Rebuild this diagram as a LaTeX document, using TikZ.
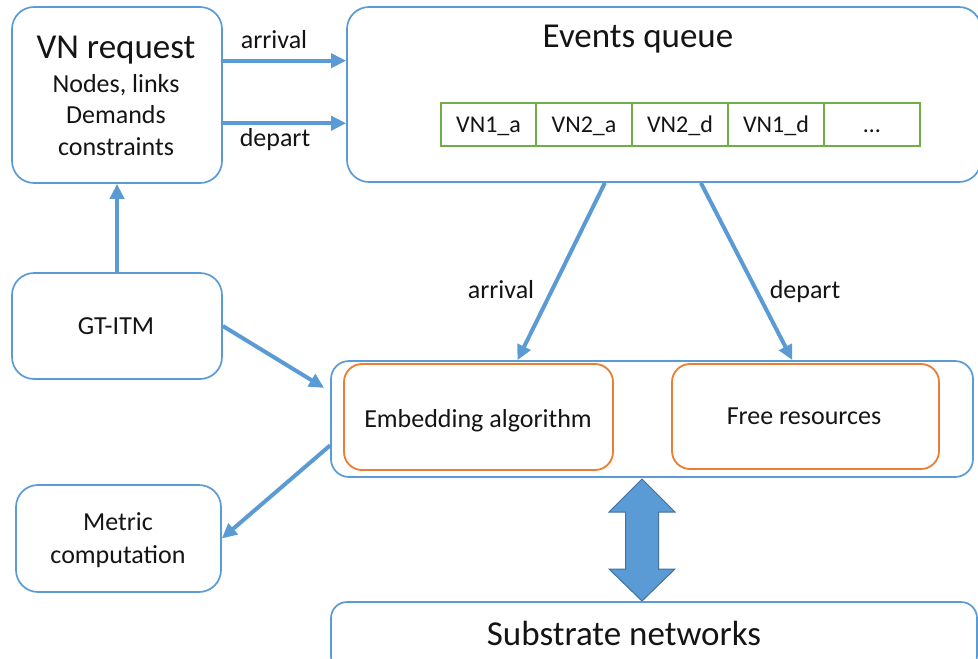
\documentclass[tikz,border=0pt]{standalone}
\usepackage{fontspec}
\setmainfont{Carlito}
\usetikzlibrary{arrows.meta,calc}
\definecolor{cblue}{HTML}{5B9BD5}
\definecolor{corange}{HTML}{ED7D31}
\definecolor{cgreen}{HTML}{70AD47}
\definecolor{cdark}{HTML}{41719C}
\definecolor{ctext}{HTML}{141414}
\newcommand{\FBig}{\fontsize{35}{40}\selectfont}
\newcommand{\FMed}{\fontsize{26}{30}\selectfont}
\newcommand{\FSml}{\fontsize{24}{28}\selectfont}
\begin{document}
\begin{tikzpicture}[x=1pt,y=-1pt,
 bluebox/.style={draw=cblue, line width=1.7pt, rounded corners=22pt, inner sep=0pt},
 orangebox/.style={draw=corange, line width=1.8pt, rounded corners=18pt, inner sep=0pt},
 cell/.style={draw=cgreen, line width=2.2pt, inner sep=0pt, minimum height=43pt, text height=20pt, text depth=5pt, font=\FSml, text=ctext},
 lbl/.style={anchor=base, inner sep=0pt, text=ctext},
 arr/.style={draw=cblue, line width=4pt, -{Triangle[length=15pt,width=14pt]}},
]
\useasboundingbox (0,0) rectangle (978,659);
\clip (0,0) rectangle (978,659);

% boxes
\node[bluebox, minimum width=210pt, minimum height=176pt] (vn) at (117,95) {};
\node[bluebox, minimum width=634pt, minimum height=175pt] (eq) at (664,94.5) {};
\node[bluebox, minimum width=210pt, minimum height=106pt] (gt) at (117,326) {};
\node[bluebox, rounded corners=18pt, minimum width=642pt, minimum height=116pt] (mid) at (652,419) {};
\node[orangebox, minimum width=269pt, minimum height=106pt] (emb) at (478.5,417) {};
\node[orangebox, minimum width=267pt, minimum height=105pt] (free) at (805.5,416.5) {};
\node[bluebox, minimum width=205pt, minimum height=107pt] (met) at (118.5,538.5) {};
\node[bluebox, rounded corners=16pt, minimum width=646pt, minimum height=70pt] (sub) at (654,637) {};

% queue cells
\node[cell, minimum width=95pt] (c1) at (488.5,124.5) {VN1\_a};
\node[cell, minimum width=96pt] (c2) at (584,124.5) {VN2\_a};
\node[cell, minimum width=96pt] (c3) at (680,124.5) {VN2\_d};
\node[cell, minimum width=96pt] (c4) at (776,124.5) {VN1\_d};
\node[cell, minimum width=96pt] (c5) at (872,124.5) {…};

% texts
\node[lbl, font=\FBig] (t1) at (116,58) {VN request};
\node[lbl, font=\FMed] (t2) at (116,92) {Nodes, links};
\node[lbl, font=\FMed] (t3) at (116,123) {Demands};
\node[lbl, font=\FMed] (t4) at (116,155) {constraints};
\node[lbl, font=\FMed] (la1) at (274,48) {arrival};
\node[lbl, font=\FMed] (ld1) at (275,146) {depart};
\node[lbl, font=\FBig] (teq) at (638,47) {Events queue};
\node[lbl, font=\FMed] (tgt) at (116,334) {GT-ITM};
\node[lbl, font=\FMed] (temb) at (478,427) {Embedding algorithm};
\node[lbl, font=\FMed] (tfree) at (804,424) {Free resources};
\node[lbl, font=\FMed] (la2) at (501,298) {arrival};
\node[lbl, font=\FMed] (ld2) at (805,298) {depart};
\node[lbl, font=\FMed] (tm1) at (118,530) {Metric};
\node[lbl, font=\FMed] (tm2) at (118,563) {computation};
\node[lbl, font=\FBig] (tsub) at (624,645) {Substrate networks};

% connectors
\path ($(vn.north east)!0.307!(vn.south east)$) coordinate (a1s);
\path ($(vn.north east)!0.659!(vn.south east)$) coordinate (d1s);
\draw[arr] (a1s) -- (a1s -| eq.west);
\draw[arr] (d1s) -- (d1s -| eq.west);
\draw[arr] (gt.north) -- (vn.south);
\draw[arr] ($(eq.south west)!0.407!(eq.south east)$) -- ($(mid.north west)!0.291!(mid.north east)$);
\draw[arr] ($(eq.south west)!0.558!(eq.south east)$) -- ($(mid.north west)!0.718!(mid.north east)$);
\draw[arr, shorten >=7pt] (gt.east) -- ($(mid.north west)!0.267!(mid.south west)$);
\draw[arr] ($(mid.north west)!0.724!(mid.south west)$) -- (met.east);

% double arrow
\fill[cblue, draw=cdark, line width=1pt] (642,479) -- (675,512) -- (658.5,512) -- (658.5,569) -- (675,569) -- (642,601) -- (609,569) -- (625.5,569) -- (625.5,512) -- (609,512) -- cycle;
\end{tikzpicture}
\end{document}
